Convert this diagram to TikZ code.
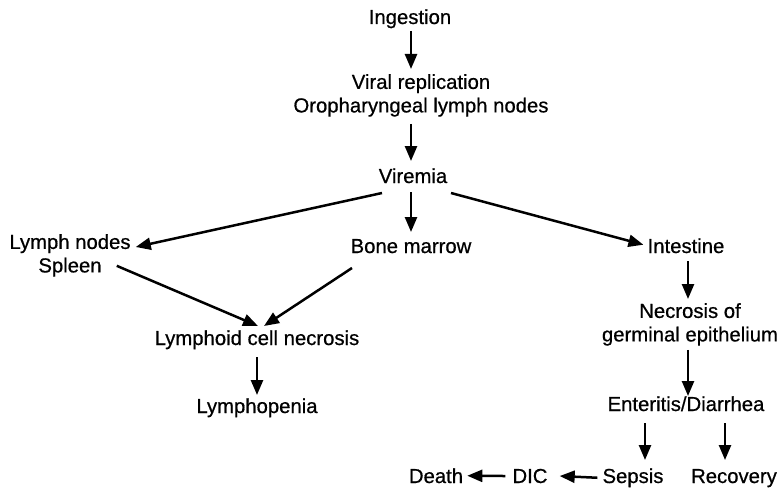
\documentclass[tikz,border=0pt]{standalone}
\usepackage{fontspec}
\setmainfont{Liberation Sans}[FakeBold=0.6]
\usetikzlibrary{arrows.meta,calc}
\begin{document}
\begin{tikzpicture}[x=1pt,y=-1pt,
  lbl/.style={inner sep=0pt,anchor=base,align=center,font=\fontsize{20.3}{23.5}\selectfont},
  arr/.style={line width=2.5pt,-{Triangle[length=15pt,width=12pt]}}]
\useasboundingbox (0,0) rectangle (783,492);
\node[lbl] (ing) at (410,24) {Ingestion};
\node[lbl,anchor=north] (vrep) at (421,74) {Viral replication\\Oropharyngeal lymph nodes};
\node[lbl] (vir) at (413,183) {Viremia};
\node[lbl,anchor=north] (lns) at (70,234) {Lymph nodes\\Spleen};
\node[lbl] (bm) at (411,253) {Bone marrow};
\node[lbl] (int) at (686,253) {Intestine};
\node[lbl] (lcn) at (257,345) {Lymphoid cell necrosis};
\node[lbl] (lyp) at (257,413) {Lymphopenia};
\node[lbl,anchor=north] (nge) at (690,303) {Necrosis of\\germinal epithelium};
\node[lbl] (ent) at (686,411) {Enteritis/Diarrhea};
\node[lbl] (sep) at (633,483) {Sepsis};
\node[lbl] (rec) at (734,483) {Recovery};
\node[lbl] (dic) at (530,483) {DIC};
\node[lbl] (dth) at (436,483) {Death};
% connectors
\draw[arr] ($(ing.base)+(1,7)$) -- ($(vrep.north)+(-10,-5)$);
\draw[arr] ($(vrep.south)+(-10,7)$) -- ($(vir.base)+(-2,-22)$);
\draw[arr] ($(vir.base)+(-31,10)$) -- ($(lns.north east)+(5,13)$);
\draw[arr] ($(vir.base)+(-2,9)$) -- ($(bm.base)+(0,-21)$);
\draw[arr] ($(vir.base)+(38,10)$) -- ($(int.west)+(-4,-1)$);
\draw[arr] ($(lns.south east)+(-14,-11)$) -- ($(lcn.base)+(1,-19)$);
\draw[arr] ($(bm.base)+(-59,15)$) -- ($(lcn.base)+(7,-19)$);
\draw[arr] ($(lcn.base)+(0,12)$) -- ($(lyp.base)+(0,-18)$);
\draw[arr] ($(int.base)+(2,8)$) -- ($(nge.north)+(-2,-4)$);
\draw[arr] ($(nge.south)+(-2,4)$) -- ($(ent.base)+(2,-15)$);
\draw[arr] ($(ent.base)+(-41,12)$) -- ($(sep.base)+(12,-23)$);
\draw[arr] ($(ent.base)+(39,12)$) -- ($(rec.base)+(-9,-23)$);
\draw[arr] ($(sep.west)+(-5,0)$) -- ($(dic.east)+(12,0)$);
\draw[arr] ($(dic.west)+(-7,0)$) -- ($(dth.east)+(4,0)$);
\end{tikzpicture}
\end{document}
